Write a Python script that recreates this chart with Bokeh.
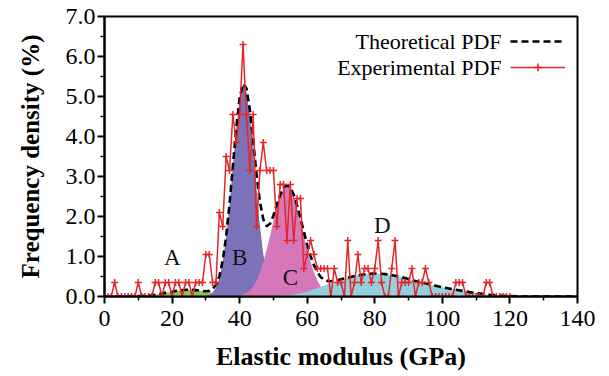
from bokeh.plotting import figure
from bokeh.models import Range1d, Label, Legend, LegendItem, PrintfTickFormatter, FixedTicker
from bokeh.embed import file_html
from bokeh.resources import INLINE

# ---------------- data ----------------
exp_x = list(range(0, 121))
exp_y = [0, 0, 0, 0.35, 0, 0, 0, 0, 0, 0,
         0.35, 0, 0, 0, 0, 0.35, 0.35, 0, 0.35, 0.35,
         0, 0.35, 0.35, 0, 0.35, 0.35, 0, 0.35, 0.35, 0.35,
         1.05, 1.05, 0.35, 0.35, 2.1, 1.75, 3.5, 3.15, 4.55, 3.85,
         4.55, 6.3, 4.55, 3.15, 4.55, 1.75, 3.15, 3.85, 3.15, 3.15,
         3.15, 1.75, 2.8, 2.8, 1.4, 2.8, 1.4, 2.45, 2.45, 0.7,
         1.05, 1.4, 1.05, 0.7, 0.7, 0.7, 0.7, 0, 0.7, 0.35,
         0.35, 0, 1.4, 0, 0.35, 1.05, 0.35, 0.7, 0.7, 0.35,
         0.7, 1.4, 0.35, 0, 0, 0.7, 1.4, 0, 0.35, 0.35,
         0.35, 0.7, 0, 0.35, 0.35, 0.7, 0.35, 0, 0, 0,
         0, 0, 0, 0, 0.35, 0.35, 0.35, 0, 0, 0,
         0, 0, 0, 0.35, 0.35, 0, 0, 0, 0, 0,
         0]

theo_x = [0, 2, 4, 6, 8, 10, 12, 14, 16, 18, 20, 22,
          24, 25, 26, 27, 28, 29, 30, 31, 32, 33, 34, 35, 36, 37, 38, 39, 40, 41, 42, 43, 44, 45, 46,
          47, 48, 49, 50, 51, 52, 53, 54, 55, 56, 57, 58, 59, 60, 61, 62, 63, 64, 65, 66, 67, 68,
          70, 72, 74, 76, 78, 80, 82, 84, 86, 88, 90, 92, 94, 96, 98, 100, 102, 104, 106, 108, 110,
          112, 114, 116, 118, 120, 122, 124, 126, 128, 130, 132, 134, 136, 138, 140]
theo_y = [0.0, 0.0, 0.0, 0.0, 0.01, 0.01, 0.02, 0.03, 0.06, 0.09, 0.12, 0.15,
          0.17, 0.17, 0.17, 0.16, 0.15, 0.14, 0.13, 0.14, 0.19, 0.29, 0.51, 0.90, 1.50, 2.31, 3.27,
          4.21, 4.97, 5.32, 5.21, 4.68, 3.89, 3.06, 2.37, 1.93, 1.76, 1.82, 2.02, 2.30, 2.54, 2.72,
          2.78, 2.72, 2.55, 2.28, 1.96, 1.62, 1.29, 1.01, 0.78, 0.61, 0.49, 0.42, 0.39, 0.38, 0.39,
          0.43, 0.47, 0.51, 0.54, 0.565, 0.575, 0.57, 0.55, 0.52, 0.48, 0.44, 0.39, 0.35, 0.31, 0.27,
          0.23, 0.20, 0.17, 0.14, 0.11, 0.085, 0.065, 0.045, 0.03, 0.02, 0.01, 0.005,
          0, 0, 0, 0, 0, 0, 0, 0, 0]

a_x = [8, 10, 12, 14, 16, 18, 20, 22, 24, 26, 28, 30, 32, 34, 36, 38, 40, 42]
a_y = [0.003, 0.007, 0.016, 0.032, 0.055, 0.086, 0.12, 0.15, 0.168, 0.168, 0.15, 0.12,
       0.086, 0.055, 0.032, 0.016, 0.007, 0.003]

b_x = [28, 29, 30, 31, 32, 33, 34, 35, 36, 37, 38, 39, 40, 41, 42, 43, 44, 45, 46, 47, 48, 49,
       50, 51, 52, 53, 54]
b_y = [0, 0, 0.01, 0.04, 0.10, 0.22, 0.45, 0.86, 1.47, 2.29, 3.25, 4.20, 4.93, 5.27, 5.12, 4.53,
       3.64, 2.66, 1.77, 1.07, 0.59, 0.30, 0.13, 0.06, 0.02, 0.01, 0]

c_x = [40, 41, 42, 43, 44, 45, 46, 47, 48, 49, 50, 51, 52, 53, 54, 55, 56, 57, 58, 59, 60, 61,
       62, 63, 64, 65, 66, 67, 68, 69, 70]
c_y = [0, 0.05, 0.09, 0.15, 0.25, 0.40, 0.60, 0.86, 1.17, 1.52, 1.88, 2.22, 2.50, 2.68, 2.75,
       2.68, 2.50, 2.22, 1.88, 1.52, 1.17, 0.86, 0.60, 0.40, 0.25, 0.15, 0.09, 0.05, 0.03, 0.01, 0]

d_x = [50, 51, 52, 53, 54, 55, 56, 57, 58, 59, 60, 61, 62, 63, 64, 65, 66, 67, 68,
       70, 72, 74, 76, 78, 80, 82, 84, 86, 88, 90, 92, 94, 96, 98, 100, 102, 104, 106, 108, 110,
       112, 114, 116, 118, 120, 122, 124]
d_y = [0.01, 0.015, 0.02, 0.03, 0.03, 0.04, 0.05, 0.06, 0.08, 0.10, 0.12, 0.15, 0.18, 0.21,
       0.24, 0.27, 0.30, 0.33, 0.36,
       0.42, 0.47, 0.51, 0.54, 0.565, 0.575, 0.57, 0.55, 0.52, 0.48, 0.44, 0.39, 0.35, 0.31,
       0.27, 0.23, 0.20, 0.17, 0.14, 0.11, 0.085, 0.065, 0.045, 0.03, 0.02, 0.01, 0.005, 0]

x_ticks = [0, 20, 40, 60, 80, 100, 120, 140]
x_minor = [10, 30, 50, 70, 90, 110, 130]
y_ticks = [0, 1, 2, 3, 4, 5, 6, 7]
y_minor = [0.5, 1.5, 2.5, 3.5, 4.5, 5.5, 6.5]

comp_names = ["A", "B", "C", "D"]
comp_label_x = [20.1, 40.0, 55.0, 82.2]
comp_label_y = [0.97, 0.97, 0.48, 1.78]

# ---------------- styling ----------------
SERIF = "Liberation Serif"
RED = "#E3262B"

p = figure(width=601, height=376, x_range=Range1d(0, 140), y_range=Range1d(0, 7),
           output_backend="svg", toolbar_location=None,
           min_border_left=104, min_border_right=24, min_border_top=16, min_border_bottom=80)
p.xgrid.visible = False
p.ygrid.visible = False
p.outline_line_color = "black"
p.outline_line_width = 2
p.background_fill_color = "white"

# component areas
p.varea(x=a_x, y1=0, y2=a_y, fill_color="#86C55A")
p.varea(x=b_x, y1=0, y2=b_y, fill_color="#7B72B9")
p.varea(x=c_x, y1=0, y2=c_y, fill_color="#D677B9")
p.varea(x=d_x, y1=0, y2=d_y, fill_color="#93CFDC")

r_theo = p.line(theo_x, theo_y, line_color="black", line_width=2.6, line_dash="7 4")
r_exp_line = p.line(exp_x, exp_y, line_color=RED, line_width=1.5)
r_exp_pts = p.scatter(exp_x, exp_y, marker="cross", size=7, line_color=RED, line_width=1.5)

for name, lx, ly in zip(comp_names, comp_label_x, comp_label_y):
    p.add_layout(Label(x=lx, y=ly, text=name, text_align="center", text_baseline="middle",
                       text_font=SERIF, text_font_size="23px", text_color="#111111"))

# axes
for ax in (p.xaxis[0], p.yaxis[0]):
    ax.axis_line_width = 2
    ax.major_tick_line_width = 2
    ax.minor_tick_line_width = 1.5
    ax.major_tick_in = 0
    ax.major_tick_out = 7
    ax.minor_tick_in = 0
    ax.minor_tick_out = 4
    ax.major_label_text_font = SERIF
    ax.major_label_text_font_size = "24px"
    ax.major_label_text_color = "black"
    ax.axis_label_text_font = SERIF
    ax.axis_label_text_font_size = "26px"
    ax.axis_label_text_font_style = "bold"
    ax.axis_label_text_color = "black"

p.yaxis.axis_label_text_font_size = "25px"
p.xaxis.ticker = FixedTicker(ticks=x_ticks, minor_ticks=x_minor)
p.yaxis.ticker = FixedTicker(ticks=y_ticks, minor_ticks=y_minor)
p.yaxis.formatter = PrintfTickFormatter(format="%.1f")
p.xaxis.axis_label = "Elastic modulus (GPa)"
p.yaxis.axis_label = "Frequency density (%)"
p.xaxis.major_label_standoff = 7
p.yaxis.major_label_standoff = 2
p.xaxis.axis_label_standoff = 13
p.yaxis.axis_label_standoff = 19

legend = Legend(items=[LegendItem(label=" ", renderers=[r_theo]),
                       LegendItem(label=" ", renderers=[r_exp_line, r_exp_pts])],
                location=(406, 219), glyph_width=55, glyph_height=20, padding=0, margin=0,
                spacing=6, label_standoff=0, label_width=0, label_text_font_size="1px",
                border_line_color=None, background_fill_alpha=0)
p.add_layout(legend)

p.add_layout(Label(x=397, y=255, x_units="screen", y_units="screen", text="Theoretical PDF",
                   text_align="right", text_baseline="middle", text_font=SERIF,
                   text_font_size="22px", text_color="black"))
p.add_layout(Label(x=397, y=229, x_units="screen", y_units="screen", text="Experimental PDF",
                   text_align="right", text_baseline="middle", text_font=SERIF,
                   text_font_size="22px", text_color="black"))

open("out.html", "w").write(file_html(p, INLINE))
